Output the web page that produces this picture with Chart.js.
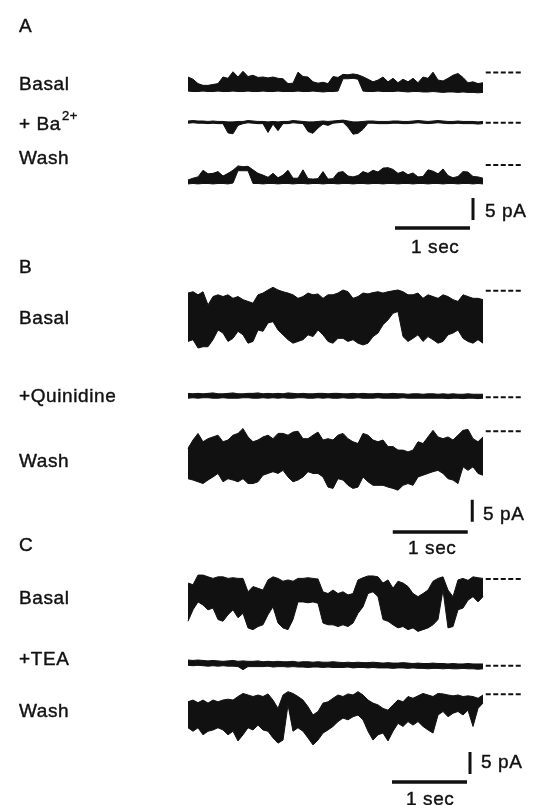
<!DOCTYPE html>
<html>
<head>
<meta charset="utf-8">
<script src="https://cdn.jsdelivr.net/npm/chart.js@4.4.1/dist/chart.umd.min.js"></script>
<style>
  html, body { margin: 0; padding: 0; background: #fff; }
  #wrap { width: 541px; height: 805px; }
</style>
</head>
<body>
<div id="wrap"><canvas id="traceChart" width="541" height="805"></canvas></div>
<script>

// ===== DATA (current in pA, relative to the closed level, read every 1/15 s) =====

const sampleDt = 1 / 15;  // s

const traceNames = ['A Basal', 'A + Ba2+', 'A Wash', 'B Basal', 'B +Quinidine', 'B Wash', 'C Basal', 'C +TEA', 'C Wash'];

const aBasalHi = [-1.0,-1.5,-2.5,-2.9,-2.9,-2.7,-2.5,-1.0,-1.3,0.2,
  -1.0,0.3,-0.9,-0.6,-1.1,-1.0,-1.2,-1.0,-1.3,-1.4,
  -2.5,-2.4,0.1,-0.9,-1.0,-2.1,-2.4,-2.2,-2.5,-0.9,
  -1.1,-0.4,-0.5,-0.3,-0.5,-0.95,-1.5,-2.1,-1.7,-1.0,
  -2.1,-1.3,-2.3,-1.5,-2.1,-1.3,-2.3,-1.0,-1.3,0.1,
  -1.7,-1.9,-1.3,-0.6,-0.2,-1.1,-2.3,-2.1,-2.5,-2.3];
const aBasalLo = [-4.2,-4.3,-4.3,-4.2,-4.3,-4.3,-4.2,-4.3,-4.3,-4.2,
  -4.3,-4.3,-4.2,-4.3,-4.3,-4.2,-4.3,-4.3,-4.2,-4.3,
  -4.3,-4.3,-4.2,-4.3,-4.3,-4.2,-4.3,-4.4,-4.3,-4.3,
  -4.2,-1.4,-1.4,-1.3,-1.5,-4.2,-4.3,-4.3,-4.2,-4.3,
  -4.3,-4.3,-4.2,-4.3,-4.4,-4.3,-4.3,-4.4,-4.4,-4.3,
  -4.4,-4.5,-4.4,-4.4,-4.5,-4.4,-4.5,-4.5,-4.6,-4.5];

const aBaHi = [0.4,0.5,0.4,0.4,0.3,0.4,0.3,0.3,0.2,0.2,
  0.3,0.3,0.5,0.4,0.3,0.3,0.2,0.3,0.2,0.3,
  0.3,0.5,0.4,0.3,0.2,0.2,0.3,0.4,0.3,0.4,
  0.5,0.6,0.4,0.2,0.2,0.3,0.4,0.4,0.3,0.3,
  0.3,0.4,0.4,0.3,0.3,0.4,0.5,0.4,0.3,0.4,
  0.5,0.4,0.3,0.3,0.4,0.3,0.3,0.3,0.2,0.3];
const aBaLo = [-0.1,0.0,-0.1,-0.1,-0.2,-0.1,-0.2,-0.2,-2.3,-2.5,
  -0.6,-0.2,0.0,-0.1,-0.2,-0.2,-2.2,-0.3,-1.8,-0.2,
  -0.2,0.0,-0.1,-0.2,-2.0,-2.4,-1.2,-0.3,-0.6,-0.1,
  0.0,0.1,-1.0,-2.6,-2.4,-1.5,-0.1,-0.1,-0.2,-0.2,
  -0.2,-0.1,-0.1,-0.2,-0.2,-0.1,0.0,-0.1,-0.2,-0.1,
  0.0,-0.1,-0.2,-0.2,-0.1,-0.2,-0.2,-0.2,-0.3,-0.2];

const aWashHi = [-3.4,-3.0,-2.7,-1.2,-2.0,-1.9,-1.5,-2.5,-1.9,-1.2,
  -0.2,-0.4,-0.3,-1.1,-1.9,-2.3,-2.8,-1.9,-2.9,-2.3,
  -1.2,-3.0,-3.0,-1.1,-3.1,-3.2,-3.1,-1.5,-3.2,-3.1,
  -1.7,-1.5,-2.5,-2.7,-2.4,-1.5,-1.9,-1.2,-1.6,-0.7,
  -0.6,-1.0,-1.9,-1.5,-2.2,-1.8,-2.7,-2.6,-1.1,-1.4,
  -2.0,-0.9,-2.4,-2.9,-2.6,-1.5,-1.6,-2.6,-2.7,-3.0];
const aWashLo = [-4.3,-4.2,-4.3,-4.2,-4.2,-4.3,-4.2,-4.2,-4.3,-4.1,
  -1.3,-1.3,-1.3,-4.2,-4.2,-4.3,-4.2,-4.2,-4.3,-4.2,
  -4.2,-4.3,-4.2,-4.2,-4.3,-4.2,-4.2,-4.3,-4.2,-4.2,
  -4.3,-4.2,-4.2,-4.3,-4.2,-4.2,-4.3,-4.2,-4.2,-4.3,
  -4.2,-4.2,-4.3,-4.2,-4.2,-4.3,-4.2,-4.2,-4.3,-4.2,
  -4.2,-4.3,-4.2,-4.2,-4.3,-4.2,-4.2,-4.3,-4.2,-4.3];

const bBasalHi = [-0.5,-0.2,-0.9,-0.2,-3.2,-1.3,-0.9,-1.3,-0.9,-1.7,
  -1.3,-2.0,-2.4,-2.8,-0.9,-0.5,0.2,0.8,0.2,-0.2,
  -0.5,-0.9,-1.7,-1.3,-0.5,-0.9,-0.7,-1.7,-0.9,-0.9,
  -0.5,0.2,-0.2,-1.7,-1.3,-0.5,-0.7,-0.4,-0.2,-0.5,
  -0.2,0.0,0.2,-0.2,-0.9,-0.9,-0.5,-1.7,-0.9,-1.3,
  -1.7,-0.9,-1.3,-2.0,-2.4,-0.9,-1.3,-1.7,-1.7,-2.0];
const bBasalLo = [-11.5,-11.1,-13.0,-12.7,-12.7,-11.1,-8.9,-9.6,-11.5,-10.8,
  -9.2,-10.0,-11.9,-11.5,-8.9,-9.2,-7.3,-7.0,-8.9,-10.0,
  -11.1,-11.9,-11.5,-11.1,-10.0,-10.4,-8.9,-10.0,-11.5,-11.9,
  -10.8,-10.8,-11.5,-11.1,-11.9,-12.3,-11.9,-10.4,-9.6,-7.7,
  -6.6,-5.1,-4.7,-10.4,-11.5,-10.8,-10.0,-11.5,-10.4,-11.1,
  -11.9,-11.5,-10.0,-9.6,-8.9,-10.8,-11.5,-11.9,-11.1,-11.9];

const bQuinHi = [0.9,0.8,0.9,0.8,0.9,1.0,0.8,0.8,0.9,1.0,
  0.8,0.8,0.9,0.9,1.0,0.8,0.9,0.8,0.9,0.8,
  1.0,0.9,0.8,0.9,0.8,0.8,0.9,0.9,0.8,0.9,
  0.9,0.8,0.8,0.9,0.8,0.9,0.8,0.8,0.9,0.8,
  0.8,0.9,0.8,0.8,0.7,0.8,0.8,0.7,0.8,0.8,
  0.7,0.8,0.7,0.8,0.7,0.7,0.8,0.7,0.7,0.7];
const bQuinLo = [-0.2,-0.1,-0.2,-0.1,-0.1,-0.2,-0.2,-0.1,-0.2,-0.2,
  -0.2,-0.1,-0.1,-0.2,-0.2,-0.1,-0.2,-0.1,-0.2,-0.1,
  -0.2,-0.2,-0.1,-0.1,-0.2,-0.2,-0.1,-0.2,-0.1,-0.2,
  -0.2,-0.1,-0.2,-0.2,-0.1,-0.2,-0.2,-0.2,-0.1,-0.2,
  -0.2,-0.2,-0.2,-0.1,-0.2,-0.2,-0.2,-0.2,-0.2,-0.2,
  -0.2,-0.2,-0.3,-0.2,-0.2,-0.3,-0.2,-0.2,-0.3,-0.2];

const bWashHi = [-3.9,-2.0,-0.5,-2.4,-1.7,-1.3,-0.9,-2.4,-2.0,-0.9,
  -0.5,0.6,-1.3,-2.4,-2.0,-1.3,-0.9,-1.7,-0.5,-0.5,
  -0.9,-0.2,0.0,-1.7,-1.7,-0.9,-0.2,-2.0,-1.7,-2.0,
  -0.9,-0.5,-1.7,-2.4,-2.8,-0.5,-0.9,-2.0,-2.4,-2.0,
  -3.5,-3.5,-4.3,-4.3,-4.7,-4.3,-2.4,-2.8,-1.3,0.2,
  -1.3,-1.7,-1.3,-2.0,-0.9,0.2,0.4,-1.7,-2.4,-1.3];
const bWashLo = [-10.8,-11.1,-11.5,-11.9,-11.1,-10.4,-9.6,-11.5,-10.8,-11.1,
  -11.5,-10.8,-11.9,-11.9,-11.5,-10.0,-9.6,-9.2,-9.6,-8.9,
  -10.4,-11.5,-11.1,-10.4,-9.2,-9.6,-9.6,-10.4,-12.7,-13.0,
  -10.8,-11.1,-12.3,-13.0,-12.7,-10.4,-11.5,-12.3,-12.3,-12.3,
  -12.7,-13.0,-13.4,-12.3,-11.9,-12.3,-10.4,-10.0,-9.6,-9.2,
  -8.9,-9.6,-10.8,-11.1,-11.9,-8.1,-8.9,-8.1,-9.6,-10.0];

const cBasalHi = [-0.9,-1.3,0.9,0.9,0.5,0.15,0.5,0.5,0.15,0.3,
  0.15,0.15,-2.9,-1.7,-2.1,-2.5,-0.2,0.5,0.15,-0.5,
  -0.2,-0.5,0.15,0.15,0.3,0.15,0.0,-2.9,-3.3,-2.5,
  -3.3,-2.9,-3.6,-3.3,-0.2,0.3,0.7,0.7,0.5,-0.9,
  -0.2,-2.1,-0.5,-0.9,-1.7,-3.3,-4.0,-3.3,-2.5,-0.5,
  0.15,0.5,-2.5,-4.0,-0.2,0.15,-0.3,0.5,0.3,0.15];
const cBasalLo = [-9.6,-7.0,-5.2,-5.9,-7.0,-6.6,-9.2,-9.6,-8.1,-7.0,
  -8.8,-7.8,-11.1,-11.5,-10.8,-10.4,-8.1,-6.3,-10.0,-11.1,
  -11.5,-9.2,-5.2,-5.2,-5.4,-5.2,-5.5,-10.0,-10.4,-10.4,
  -10.8,-10.4,-10.8,-10.0,-7.8,-6.3,-3.3,-2.9,-4.0,-9.2,
  -9.6,-10.4,-11.1,-10.8,-11.5,-11.1,-11.9,-11.5,-11.1,-10.4,
  -9.2,-2.5,-11.1,-10.8,-7.0,-6.6,-4.8,-4.0,-5.2,-4.0];

const cTeaHi = [1.3,1.2,1.3,1.2,1.1,1.2,1.1,1.0,1.1,1.2,
  1.0,1.1,1.0,1.0,1.1,0.9,1.0,0.9,1.0,0.9,
  0.9,1.0,0.8,0.9,0.9,0.8,0.9,0.8,0.8,0.9,
  0.8,0.7,0.8,0.7,0.8,0.7,0.7,0.8,0.7,0.6,
  0.7,0.6,0.6,0.7,0.6,0.5,0.6,0.5,0.5,0.6,
  0.5,0.5,0.4,0.5,0.4,0.4,0.5,0.4,0.4,0.4];
const cTeaLo = [0.1,0.0,0.1,0.0,-0.1,0.0,-0.1,0.0,-0.1,-0.1,
  -0.2,-0.9,-0.2,-0.2,-0.2,-0.2,-0.1,-0.3,-0.2,-0.2,
  -0.3,-0.2,-0.3,-0.3,-0.4,-0.3,-0.3,-0.4,-0.3,-0.4,
  -0.4,-0.4,-0.3,-0.5,-0.4,-0.4,-0.5,-0.4,-0.5,-0.5,
  -0.5,-0.6,-0.5,-0.5,-0.6,-0.5,-0.6,-0.6,-0.7,-0.6,
  -0.6,-0.7,-0.6,-0.7,-0.7,-0.6,-0.7,-0.7,-0.8,-0.7];

const cWashHi = [-1.7,-1.3,-1.9,-1.3,-2.0,-1.3,-1.7,-1.3,-1.1,-1.3,
  -0.5,0.2,-0.15,-0.5,-0.15,-0.5,0.1,-1.3,-3.2,-0.15,
  0.6,0.2,-0.5,-1.3,-2.8,-4.7,-3.9,-2.0,-1.7,-0.9,
  -0.15,-0.5,0.1,-0.15,0.6,-0.15,-1.3,-2.0,-2.4,-3.2,
  -3.6,-2.4,-1.3,-1.7,-0.5,-0.9,-0.35,0.2,-0.15,-0.5,
  0.2,0.1,-0.15,-0.35,-0.15,-0.5,-0.35,-0.5,-0.9,-0.15];
const cWashLo = [-7.6,-8.4,-7.6,-9.2,-8.4,-8.1,-7.6,-8.1,-9.2,-8.4,
  -10.6,-9.2,-7.6,-8.1,-7.0,-8.1,-8.4,-9.9,-11.1,-10.4,
  -2.4,-8.4,-7.6,-8.4,-9.9,-11.5,-10.4,-8.8,-8.1,-7.3,
  -6.2,-5.4,-5.8,-5.1,-4.7,-5.8,-8.4,-10.4,-9.2,-8.8,
  -10.6,-8.4,-6.6,-7.3,-6.2,-7.0,-6.2,-7.3,-8.1,-8.8,
  -4.7,-3.9,-5.1,-4.3,-3.9,-4.7,-3.6,-7.3,-3.2,-2.0];

const hiSeries = [aBasalHi, aBaHi, aWashHi, bBasalHi, bQuinHi, bWashHi, cBasalHi, cTeaHi, cWashHi];
const loSeries = [aBasalLo, aBaLo, aWashLo, bBasalLo, bQuinLo, bWashLo, cBasalLo, cTeaLo, cWashLo];

// scale bars: 1 sec and 5 pA
const scaleSec = 1;
const scalePA = 5;

// ===== LAYOUT =====

const PX_PER_PA = 4.4;
const PX_PER_SEC = 75;
const TRACE_LEFT = 188;
const W = 541, H = 805;

// closed level (dashed line) of each trace, in pA below the top edge
const rowLevels = [-16.5, -27.9, -37.5, -66.1, -90.3, -98.0, -131.6, -151.3, -157.8];

const dashStart = 3.97, dashEnd = 4.45;

const scaleBars = [
  { t: 2.76, y: -51.8, vt: 3.80, vy: -45.0 },
  { t: 2.73, y: -120.9, vt: 3.79, vy: -113.6 },
  { t: 2.72, y: -177.7, vt: 3.76, vy: -170.9 }
];

const labels = [
  { text: 'A', x: 19, y: 27 },
  { text: 'Basal', x: 19, y: 85 },
  { text: '+ Ba', x: 19, y: 125, sup: '2+' },
  { text: 'Wash', x: 19, y: 159 },
  { text: '5 pA', x: 485, y: 212 },
  { text: '1 sec', x: 411, y: 248 },
  { text: 'B', x: 19, y: 268 },
  { text: 'Basal', x: 19, y: 319 },
  { text: '+Quinidine', x: 19, y: 397 },
  { text: 'Wash', x: 19, y: 462 },
  { text: '5 pA', x: 483, y: 515 },
  { text: '1 sec', x: 408, y: 549 },
  { text: 'C', x: 19, y: 546 },
  { text: 'Basal', x: 19, y: 599 },
  { text: '+TEA', x: 19, y: 660 },
  { text: 'Wash', x: 19, y: 712 },
  { text: '5 pA', x: 481, y: 763 },
  { text: '1 sec', x: 406, y: 800 }
];

// ===== DATASETS =====

const datasets = [];

hiSeries.forEach(function(hi, r){

    const lo = loSeries[r];
    const off = rowLevels[r];

    datasets.push({
        label: traceNames[r] + ' top',
        data: hi.map((v, i) => ({ x: i * sampleDt, y: off + v })),
        borderColor: '#111',
        borderWidth: 1,
        pointRadius: 0,
        tension: 0,
        fill: false
    });

    datasets.push({
        label: traceNames[r] + ' bottom',
        data: lo.map((v, i) => ({ x: i * sampleDt, y: off + v })),
        borderColor: '#111',
        borderWidth: 1,
        backgroundColor: '#111',
        pointRadius: 0,
        tension: 0,
        fill: '-1'
    });

    // closed level
    datasets.push({
        label: traceNames[r] + ' closed',
        data: [{ x: dashStart, y: off }, { x: dashEnd, y: off }],
        borderColor: '#111',
        borderWidth: 2,
        borderDash: [5, 2.5],
        pointRadius: 0,
        fill: false
    });

});

scaleBars.forEach(function(b, k){

    datasets.push({
        label: 'time bar ' + k,
        data: [{ x: b.t, y: b.y }, { x: b.t + scaleSec, y: b.y }],
        borderColor: '#111',
        borderWidth: 3.5,
        pointRadius: 0,
        fill: false
    });

    datasets.push({
        label: 'current bar ' + k,
        data: [{ x: b.vt, y: b.vy }, { x: b.vt, y: b.vy - scalePA }],
        borderColor: '#111',
        borderWidth: 3,
        pointRadius: 0,
        fill: false
    });

});

// text labels
const labelPlugin = {
    id: 'labelPlugin',
    afterDraw(chart){
        const ctx = chart.ctx;
        ctx.save();
        ctx.fillStyle = '#111';
        ctx.strokeStyle = '#111';
        ctx.lineWidth = 0.4;
        ctx.textBaseline = 'middle';
        ctx.textAlign = 'left';
        ctx.letterSpacing = '0.6px';
        labels.forEach(function(l){
            ctx.font = '19px "Liberation Sans", Arial, sans-serif';
            ctx.fillText(l.text, l.x, l.y);
            ctx.strokeText(l.text, l.x, l.y);
            if(l.sup){
                const w = ctx.measureText(l.text).width;
                ctx.font = '13px "Liberation Sans", Arial, sans-serif';
                ctx.fillText(l.sup, l.x + w + 1, l.y - 9);
                ctx.strokeText(l.sup, l.x + w + 1, l.y - 9);
            }
        });
        ctx.restore();
    }
};

new Chart(document.getElementById('traceChart'), {

    type: 'line',

    data: { datasets: datasets },

    options: {
        responsive: false,
        animation: false,
        devicePixelRatio: 1,
        layout: { padding: 0 },
        scales: {
            x: {
                type: 'linear',
                display: false,
                min: -TRACE_LEFT / PX_PER_SEC,
                max: (W - TRACE_LEFT) / PX_PER_SEC
            },
            y: {
                type: 'linear',
                display: false,
                min: -H / PX_PER_PA,
                max: 0
            }
        },
        plugins: {
            legend: { display: false },
            tooltip: { enabled: false }
        }
    },

    plugins: [labelPlugin]

});

</script>
</body>
</html>
